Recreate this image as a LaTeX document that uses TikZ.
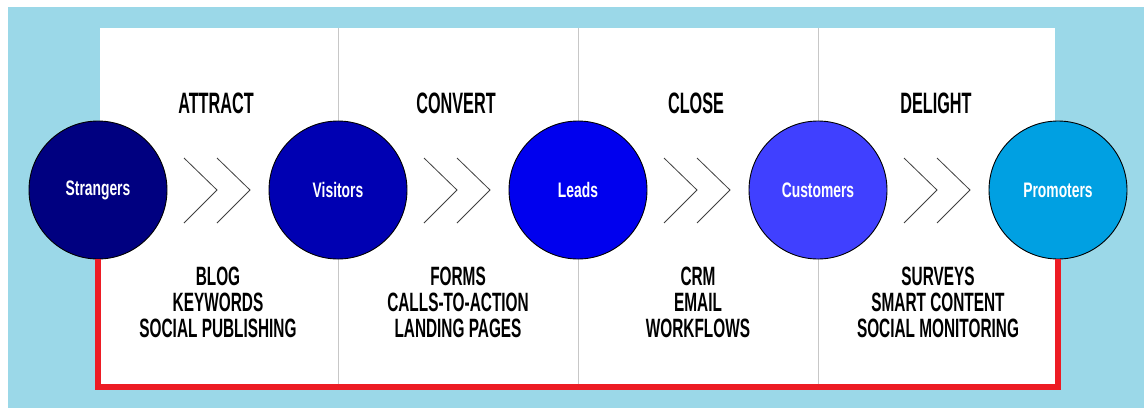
\documentclass[tikz,border=0pt]{standalone}
\usepackage{fontspec}
\newfontfamily\phasefont{Liberation Sans}[FakeStretch=0.55]
\newfontfamily\toolfont{Liberation Sans}[FakeStretch=0.58]
\newfontfamily\stagefont{Liberation Sans}[FakeStretch=0.66]
\usetikzlibrary{positioning}

\definecolor{skyback}{RGB}{155,216,232}
\definecolor{loopred}{RGB}{237,28,36}
\definecolor{strangerblue}{RGB}{0,0,128}
\definecolor{visitorblue}{RGB}{0,0,178}
\definecolor{leadblue}{RGB}{0,0,238}
\definecolor{customerblue}{RGB}{64,64,255}
\definecolor{promoterblue}{RGB}{0,160,226}

\begin{document}
\begin{tikzpicture}[x=1pt,y=-1pt,
    stage/.style={circle,draw=black,line width=0.9pt,minimum size=138pt,inner sep=0pt,outer sep=0pt,
        text=white,font=\stagefont\bfseries\fontsize{21}{21}\selectfont},
    phase/.style={font=\phasefont\bfseries\fontsize{29.5}{30}\selectfont},
    tools/.style={align=center,font=\toolfont\bfseries\fontsize{26.5}{26}\selectfont},
    chevron/.style={draw=black!75,line width=0.8pt},
    divider/.style={draw=black!22,line width=0.8pt}]
\useasboundingbox (0,0) rectangle (1144,408);
\fill[white] (0,0) rectangle (1144,408);
\fill[skyback] (8,7) rectangle (1144,408);
\fill[white] (100,28) rectangle (1055,384);

% column dividers
\draw[divider] (338,28) -- (338,384);
\draw[divider] (578,28) -- (578,384);
\draw[divider] (818,28) -- (818,384);

% stages
\node[stage,fill=strangerblue] (strangers) at (98,190) {Strangers};
\node[stage,fill=visitorblue,right=102pt of strangers] (visitors) {Visitors};
\node[stage,fill=leadblue,right=102pt of visitors] (leads) {Leads};
\node[stage,fill=customerblue,right=102pt of leads] (customers) {Customers};
\node[stage,fill=promoterblue,right=102pt of customers] (promoters) {Promoters};

% loop back along the bottom
\draw[loopred,line width=6pt] (strangers.south) -- ++(0,128) -| (promoters.south);

% chevrons
\draw[chevron] (184,158) -- (217,190) -- (184,223);
\draw[chevron] (217,158) -- (250,190) -- (217,223);
\draw[chevron] (424,158) -- (457,190) -- (424,223);
\draw[chevron] (457,158) -- (490,190) -- (457,223);
\draw[chevron] (664,158) -- (697,190) -- (664,223);
\draw[chevron] (697,158) -- (730,190) -- (697,223);
\draw[chevron] (904,158) -- (937,190) -- (904,223);
\draw[chevron] (937,158) -- (970,190) -- (937,223);

% phase titles
\node[phase] (attract) at (216,103) {ATTRACT};
\node[phase] (convert) at (456,103) {CONVERT};
\node[phase] (close) at (696,103) {CLOSE};
\node[phase] (delight) at (936,103) {DELIGHT};

% tools per phase
\node[tools] (attracttools) at (218,302) {BLOG\\KEYWORDS\\SOCIAL PUBLISHING};
\node[tools] (converttools) at (458,302) {FORMS\\CALLS-TO-ACTION\\LANDING PAGES};
\node[tools] (closetools) at (698,302) {CRM\\EMAIL\\WORKFLOWS};
\node[tools] (delighttools) at (938,302) {SURVEYS\\SMART CONTENT\\SOCIAL MONITORING};
\end{tikzpicture}
\end{document}
